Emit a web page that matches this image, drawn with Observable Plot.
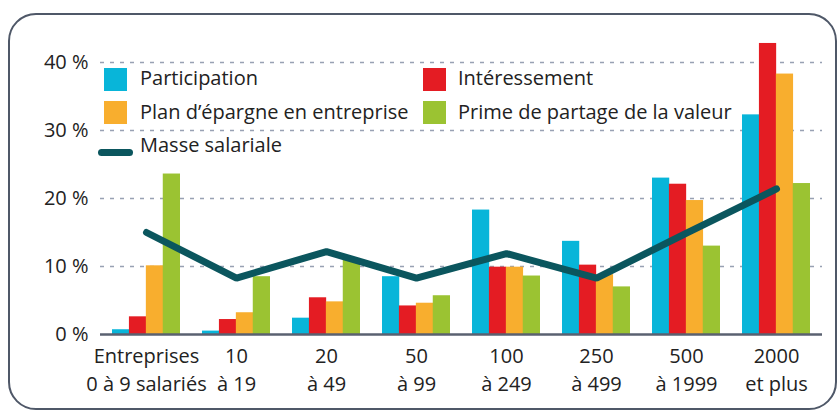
<!DOCTYPE html>
<html>
<head>
<meta charset="utf-8">
<script src="https://cdn.jsdelivr.net/npm/d3@7"></script>
<script src="https://cdn.jsdelivr.net/npm/@observablehq/plot@0.6"></script>
<style>
  html, body { margin: 0; padding: 0; background: #fff; }
  #wrap { position: relative; width: 839px; height: 412px; overflow: hidden; font-family: "Open Sans", sans-serif; color: #222; }
  #frame { position: absolute; left: 8px; top: 13px; width: 829px; height: 397px; border: 2.5px solid #4f5868; border-radius: 28px; box-sizing: border-box; }
  #chart { position: absolute; left: 0; top: 0; }
  .lg { position: absolute; font-size: 20px; line-height: 24px; white-space: nowrap; }
  .sw { position: absolute; width: 23px; height: 23px; }
  .ln { position: absolute; width: 35px; height: 7px; border-radius: 4px; }
</style>
</head>
<body>
<div id="wrap">
  <div id="frame"></div>
  <div id="chart"></div>
  <div id="legend"></div>
</div>
<script>
const groupLine1 = ["Entreprises", "10", "20", "50", "100", "250", "500", "2000"];
const groupLine2 = ["0 à 9 salariés", "à 19", "à 49", "à 99", "à 249", "à 499", "à 1999", "et plus"];
const seriesNames = ["Participation", "Intéressement", "Plan d’épargne en entreprise", "Prime de partage de la valeur"];
const participation = [0.7, 0.5, 2.4, 8.5, 18.3, 13.7, 23.0, 32.3];
const interessement = [2.6, 2.2, 5.4, 4.2, 9.9, 10.2, 22.1, 42.8];
const planEpargne = [10.1, 3.2, 4.8, 4.6, 9.9, 8.8, 19.7, 38.3];
const primePartage = [23.6, 8.5, 10.9, 5.7, 8.6, 7.0, 13.0, 22.2];
const masseSalariale = [15.0, 8.3, 12.2, 8.3, 11.9, 8.3, 14.9, 21.4];
const lineName = "Masse salariale";
const yTicks = [0, 10, 20, 30, 40];
const colors = ["#08b5d9", "#e41c23", "#f8ae2e", "#9bc332"];
const lineColor = "#0b565e";

const groups = groupLine1.map((a, i) => a + " " + groupLine2[i]);
const seriesValues = [participation, interessement, planEpargne, primePartage];

const W = 839, H = 412, mL = 100, mR = 17, mT = 62, mB = 78;
const padInner = 0.25, padOuter = 0.125;
const step = (W - mL - mR) / (groups.length - padInner + 2 * padOuter);
const bw = step * (1 - padInner);
const barW = bw / 4;

const barMarks = seriesValues.map((vals, i) =>
  Plot.barY(groups.map((g, j) => ({group: g, value: vals[j]})), {
    x: "group", y: "value", fill: colors[i],
    insetLeft: i * barW, insetRight: (3 - i) * barW
  })
);

const lineData = groups.map((g, j) => ({group: g, value: masseSalariale[j]}));
const idx = new Map(groups.map((g, i) => [g, i]));

const plot = Plot.plot({
  width: W, height: H,
  marginLeft: mL, marginRight: mR, marginTop: mT, marginBottom: mB,
  style: {fontFamily: "Open Sans, sans-serif", fontSize: "20px", color: "#222", background: "transparent", overflow: "visible"},
  x: {domain: groups, paddingInner: padInner, paddingOuter: padOuter, label: null},
  y: {domain: [0, 40], label: null},
  marks: [
    Plot.ruleY(yTicks.filter(d => d > 0), {stroke: "#98a1b3", strokeWidth: 1.3, strokeDasharray: "4,6"}),
    ...barMarks,
    Plot.ruleY([0], {stroke: "#5a6170", strokeWidth: 2.5}),
    Plot.line(lineData, {x: "group", y: "value", stroke: lineColor, strokeWidth: 7, strokeLinecap: "round", strokeLinejoin: "miter"}),
    Plot.axisY({ticks: yTicks, tickFormat: d => `${d} %`, tickSize: 0, tickPadding: 12, fontSize: 20, label: null}),
    Plot.axisX({tickSize: 0, tickPadding: 14, fontSize: 20, label: null, tickFormat: d => groupLine1[idx.get(d)]}),
    Plot.axisX({tickSize: 0, tickPadding: 42, fontSize: 20, label: null, tickFormat: d => groupLine2[idx.get(d)]})
  ]
});
document.getElementById("chart").appendChild(plot);

// Legend
const legend = document.getElementById("legend");
const items = [
  {type: "sw", color: colors[0], label: seriesNames[0], sx: 104, sy: 68, tx: 140, ty: 66},
  {type: "sw", color: colors[1], label: seriesNames[1], sx: 423, sy: 68, tx: 458, ty: 66},
  {type: "sw", color: colors[2], label: seriesNames[2], sx: 104, sy: 101, tx: 140, ty: 99.5},
  {type: "sw", color: colors[3], label: seriesNames[3], sx: 423, sy: 101, tx: 458, ty: 99.5},
  {type: "ln", color: lineColor, label: lineName, sx: 98, sy: 149, tx: 140, ty: 133}
];
for (const it of items) {
  const s = document.createElement("div");
  s.className = it.type;
  s.style.left = it.sx + "px"; s.style.top = it.sy + "px"; s.style.background = it.color;
  legend.appendChild(s);
  const t = document.createElement("div");
  t.className = "lg";
  t.style.left = it.tx + "px"; t.style.top = it.ty + "px";
  t.textContent = it.label;
  legend.appendChild(t);
}
</script>
</body>
</html>
